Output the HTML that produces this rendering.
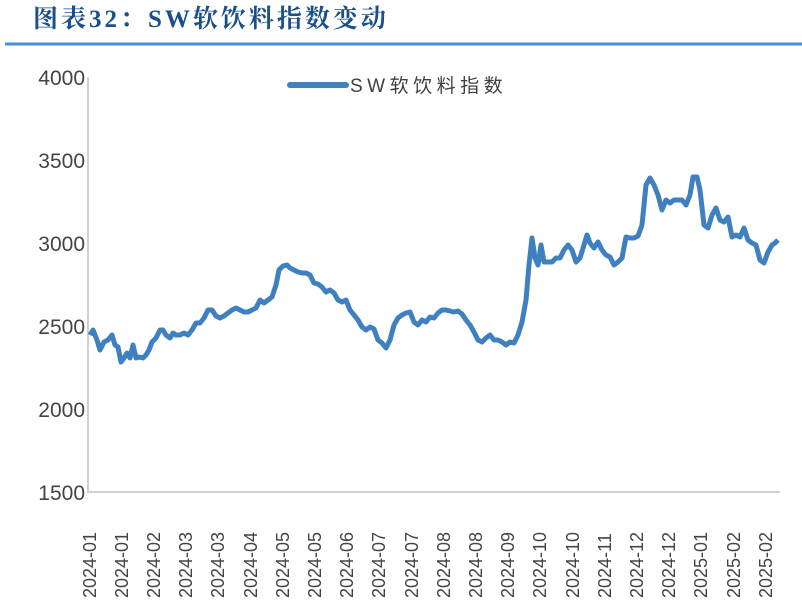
<!DOCTYPE html>
<html><head><meta charset="utf-8"><style>
body{margin:0;background:#fff;width:802px;height:604px;overflow:hidden}
</style></head><body>
<svg width="802" height="604" xmlns="http://www.w3.org/2000/svg" font-family="'Liberation Sans','Noto Sans CJK SC',sans-serif">
<text x="33" y="27" font-size="25" font-weight="bold" fill="#1a4f8a" font-family="'Liberation Serif','Noto Serif CJK SC',serif" letter-spacing="3">图表32：SW软饮料指数变动</text>
<line x1="5" y1="44" x2="802" y2="44" stroke="#4a90d0" stroke-width="3"/>
<g font-size="21" fill="#444" text-anchor="end">
<text x="85" y="85">4000</text><text x="85" y="168">3500</text><text x="85" y="251">3000</text>
<text x="85" y="334">2500</text><text x="85" y="417">2000</text><text x="85" y="500">1500</text>
</g>
<polyline points="88,77 88,492 780,492" fill="none" stroke="#d0d0d0" stroke-width="2"/>
<line x1="290" y1="85" x2="346" y2="85" stroke="#3f80c0" stroke-width="6" stroke-linecap="round"/>
<text x="350" y="92" font-size="19" fill="#404040" letter-spacing="4.5">SW软饮料指数</text>
<polyline fill="none" stroke="#3f80c0" stroke-width="5" stroke-linejoin="round" points="90,335 93,330 97,340 100,350 104,342 108,340 112,335 115,345 118,347 121,362 124,358 127,353 130,358 133,345 136,358 139,357 143,358 146,355 149,350 152,342 156,338 160,330 163,330 166,335 170,338 173,333 176,335 180,335 184,333 188,335 192,330 196,323 200,323 204,318 208,310 212,310 216,316 220,318 224,316 228,313 232,310 236,308 240,310 244,312 248,312 252,310 256,308 260,300 264,303 268,300 272,297 276,285 279,270 283,266 287,265 290,268 294,270 298,272 302,273 306,273 310,275 314,283 318,284 322,287 326,292 330,290 334,293 338,300 342,302 346,300 350,310 354,315 358,320 362,327 366,330 370,327 374,329 378,340 382,343 386,348 390,340 394,325 398,318 402,315 406,313 410,312 414,322 418,325 422,320 426,322 430,317 434,318 438,313 442,310 446,310 450,311 454,312 458,311 462,314 466,320 470,325 474,332 478,340 482,342 486,338 490,335 494,340 498,340 502,342 506,345 510,342 514,343 518,335 522,322 526,300 529,265 532,238 535,258 538,265 541,245 544,262 548,262 552,262 556,258 560,258 564,250 568,245 572,250 576,262 580,258 584,245 587,235 590,243 594,248 598,242 602,250 606,255 610,257 614,265 618,262 622,258 626,237 630,238 634,238 638,236 642,225 646,185 650,178 654,185 658,195 662,210 666,200 670,203 674,200 678,200 682,200 686,205 690,195 693,177 697,177 700,190 704,225 708,228 712,215 716,208 720,220 724,222 728,217 732,237 736,235 740,237 744,228 748,240 752,243 756,245 760,260 764,263 768,252 772,245 775,243 778,240"/>
<g font-size="18" fill="#444" text-anchor="start">
<text transform="translate(96,598) rotate(-90)">2024-01</text>
<text transform="translate(128,598) rotate(-90)">2024-01</text>
<text transform="translate(160,598) rotate(-90)">2024-02</text>
<text transform="translate(192,598) rotate(-90)">2024-03</text>
<text transform="translate(224,598) rotate(-90)">2024-03</text>
<text transform="translate(257,598) rotate(-90)">2024-04</text>
<text transform="translate(289,598) rotate(-90)">2024-05</text>
<text transform="translate(321,598) rotate(-90)">2024-05</text>
<text transform="translate(353,598) rotate(-90)">2024-06</text>
<text transform="translate(385,598) rotate(-90)">2024-07</text>
<text transform="translate(418,598) rotate(-90)">2024-07</text>
<text transform="translate(450,598) rotate(-90)">2024-08</text>
<text transform="translate(482,598) rotate(-90)">2024-08</text>
<text transform="translate(514,598) rotate(-90)">2024-09</text>
<text transform="translate(546,598) rotate(-90)">2024-10</text>
<text transform="translate(579,598) rotate(-90)">2024-10</text>
<text transform="translate(611,598) rotate(-90)">2024-11</text>
<text transform="translate(643,598) rotate(-90)">2024-12</text>
<text transform="translate(675,598) rotate(-90)">2024-12</text>
<text transform="translate(707,598) rotate(-90)">2025-01</text>
<text transform="translate(740,598) rotate(-90)">2025-02</text>
<text transform="translate(772,598) rotate(-90)">2025-02</text>
</g>
</svg>
</body></html>
